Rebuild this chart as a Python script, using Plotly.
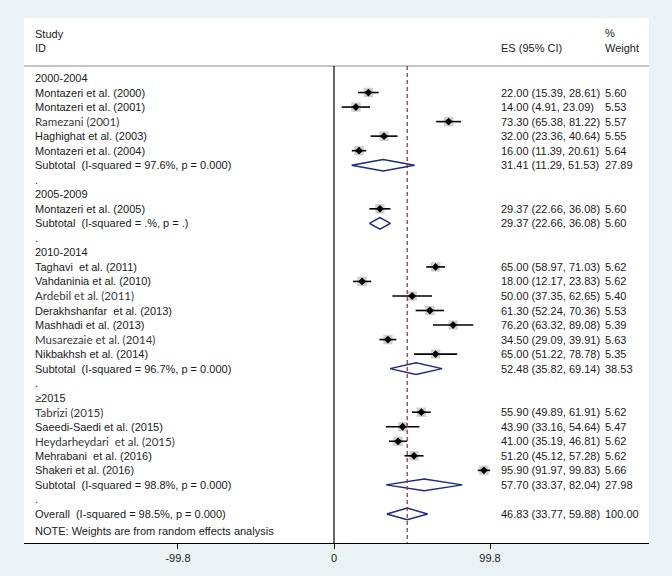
import plotly.graph_objects as go

# ---------------- data ----------------
groups = ["2000-2004", "2005-2009", "2010-2014", "≥2015"]

study_names = [
    "Montazeri et al. (2000)", "Montazeri et al. (2001)", "Ramezani (2001)",
    "Haghighat et al. (2003)", "Montazeri et al. (2004)",
    "Montazeri et al. (2005)",
    "Taghavi  et al. (2011)", "Vahdaninia et al. (2010)", "Ardebil et al. (2011)",
    "Derakhshanfar  et al. (2013)", "Mashhadi et al. (2013)", "Musarezaie et al. (2014)",
    "Nikbakhsh et al. (2014)",
    "Tabrizi (2015)", "Saeedi-Saedi et al. (2015)", "Heydarheydari  et al. (2015)",
    "Mehrabani  et al. (2016)", "Shakeri et al. (2016)",
]
study_group = [0, 0, 0, 0, 0, 1, 2, 2, 2, 2, 2, 2, 2, 3, 3, 3, 3, 3]
es = [22.00, 14.00, 73.30, 32.00, 16.00, 29.37, 65.00, 18.00, 50.00, 61.30, 76.20,
      34.50, 65.00, 55.90, 43.90, 41.00, 51.20, 95.90]
lo = [15.39, 4.91, 65.38, 23.36, 11.39, 22.66, 58.97, 12.17, 37.35, 52.24, 63.32,
      29.09, 51.22, 49.89, 33.16, 35.19, 45.12, 91.97]
hi = [28.61, 23.09, 81.22, 40.64, 20.61, 36.08, 71.03, 23.83, 62.65, 70.36, 89.08,
      39.91, 78.78, 61.91, 54.64, 46.81, 57.28, 99.83]
weight = [5.60, 5.53, 5.57, 5.55, 5.64, 5.60, 5.62, 5.62, 5.40, 5.53, 5.39, 5.63, 5.35,
          5.62, 5.47, 5.62, 5.62, 5.66]

sub_labels = ["Subtotal  (I-squared = 97.6%, p = 0.000)",
              "Subtotal  (I-squared = .%, p = .)",
              "Subtotal  (I-squared = 96.7%, p = 0.000)",
              "Subtotal  (I-squared = 98.8%, p = 0.000)"]
sub_es = [31.41, 29.37, 52.48, 57.70]
sub_lo = [11.29, 22.66, 35.82, 33.37]
sub_hi = [51.53, 36.08, 69.14, 82.04]
sub_w = [27.89, 5.60, 38.53, 27.98]

overall_label = "Overall  (I-squared = 98.5%, p = 0.000)"
overall_es, overall_lo, overall_hi, overall_w = 46.83, 33.77, 59.88, 100.00

tick_vals = [-99.8, 0, 99.8]
tick_text = ["-99.8", "0", "99.8"]

alt_font_studies = {"Ramezani (2001)", "Ardebil et al. (2011)", "Musarezaie et al. (2014)",
                    "Tabrizi (2015)", "Heydarheydari  et al. (2015)"}

# ---------------- layout constants ----------------
X_LEFT, X_RIGHT = -198.3, 201.5
X_STUDY, X_ES, X_W = -192.6, 105.6, 172.1
Y_TOP, Y_BOT = -4.13, 32.0
HDR_LINE = -0.83
MAIN_FONT = "Liberation Sans, Arial, sans-serif"
ALT_FONT = "Lato, Open Sans, sans-serif"
TXT = "#1a1a1a"
NAVY = "#1c2a80"
BG = "#eaf2f3"

fig = go.Figure()
annotations = []


def add_text(x, y, s, font=MAIN_FONT, color=TXT, size=11):
    annotations.append(dict(x=x, y=y, xref="x", yref="y", text=s, showarrow=False,
                            xanchor="left", yanchor="middle",
                            font=dict(family=font, size=size, color=color)))


# build rows
row = 0
ci_x, ci_y = [], []
pt_x, pt_y, box_size = [], [], []
dia_x, dia_y = [], []
wmax = max(weight)


def diamond(c, l, h, r, half=0.4):
    dia_x.extend([l, c, h, c, l, None])
    dia_y.extend([r, r - half, r, r + half, r, None])


for g, gname in enumerate(groups):
    add_text(X_STUDY, row, gname)
    row += 1
    for i, name in enumerate(study_names):
        if study_group[i] != g:
            continue
        if name in alt_font_studies:
            add_text(X_STUDY, row, name, font=ALT_FONT, color="#3a3a3a", size=11.5)
        else:
            add_text(X_STUDY, row, name)
        add_text(X_ES, row, f"{es[i]:.2f} ({lo[i]:.2f}, {hi[i]:.2f})")
        add_text(X_W, row, f"{weight[i]:.2f}")
        ci_x.extend([lo[i], hi[i], None])
        ci_y.extend([row, row, None])
        pt_x.append(es[i]); pt_y.append(row)
        box_size.append(9.5 * (weight[i] / wmax) ** 0.5)
        row += 1
    add_text(X_STUDY, row, sub_labels[g])
    add_text(X_ES, row, f"{sub_es[g]:.2f} ({sub_lo[g]:.2f}, {sub_hi[g]:.2f})")
    add_text(X_W, row, f"{sub_w[g]:.2f}")
    diamond(sub_es[g], sub_lo[g], sub_hi[g], row)
    row += 1
    add_text(X_STUDY, row, ".")
    row += 1

add_text(X_STUDY, row, overall_label)
add_text(X_ES, row, f"{overall_es:.2f} ({overall_lo:.2f}, {overall_hi:.2f})")
add_text(X_W, row, f"{overall_w:.2f}")
diamond(overall_es, overall_lo, overall_hi, row)
add_text(X_STUDY, row + 1.18, "NOTE: Weights are from random effects analysis")

# headers
add_text(X_STUDY, -3.03, "Study")
add_text(X_STUDY, -2.06, "ID")
add_text(X_ES, -2.06, "ES (95% CI)")
add_text(X_W, -3.1, "%")
add_text(X_W, -2.06, "Weight")

# traces
fig.add_trace(go.Scatter(x=pt_x, y=pt_y, mode="markers", hoverinfo="skip",
                         marker=dict(symbol="square", size=box_size, color="#bcbcbc",
                                     line=dict(width=0))))
fig.add_trace(go.Scatter(x=ci_x, y=ci_y, mode="lines", hoverinfo="skip",
                         line=dict(color="black", width=1.6)))
fig.add_trace(go.Scatter(x=pt_x, y=pt_y, mode="markers", hoverinfo="skip",
                         marker=dict(symbol="diamond", size=6, color="black")))
fig.add_trace(go.Scatter(x=dia_x, y=dia_y, mode="lines", hoverinfo="skip",
                         line=dict(color=NAVY, width=1.5)))

shapes = [
    dict(type="line", xref="paper", yref="y", x0=0, x1=1, y0=HDR_LINE, y1=HDR_LINE,
         line=dict(color="#c4c4c4", width=2)),
    dict(type="line", xref="x", yref="y", x0=0, x1=0, y0=HDR_LINE, y1=Y_BOT,
         line=dict(color="black", width=1.2)),
    dict(type="line", xref="x", yref="y", x0=overall_es, x1=overall_es, y0=HDR_LINE, y1=Y_BOT,
         line=dict(color="#9b2335", width=1.2, dash="4px,3px")),
]

fig.update_layout(
    width=672, height=576,
    margin=dict(l=24, r=23, t=18, b=33),
    paper_bgcolor=BG, plot_bgcolor="white",
    showlegend=False,
    shapes=shapes, annotations=annotations,
    xaxis=dict(range=[X_LEFT, X_RIGHT], showgrid=False, zeroline=False,
               showline=True, linecolor="black", linewidth=1,
               ticks="outside", ticklen=5, tickcolor="black",
               tickvals=tick_vals, ticktext=tick_text,
               tickfont=dict(family=MAIN_FONT, size=11, color=TXT)),
    yaxis=dict(range=[Y_BOT, Y_TOP], visible=False, showgrid=False, zeroline=False),
)

fig.write_html("out.html",
               config={"displayModeBar": False},
               post_script="document.body.style.margin='0';"
                           "document.body.style.background='" + BG + "';")
